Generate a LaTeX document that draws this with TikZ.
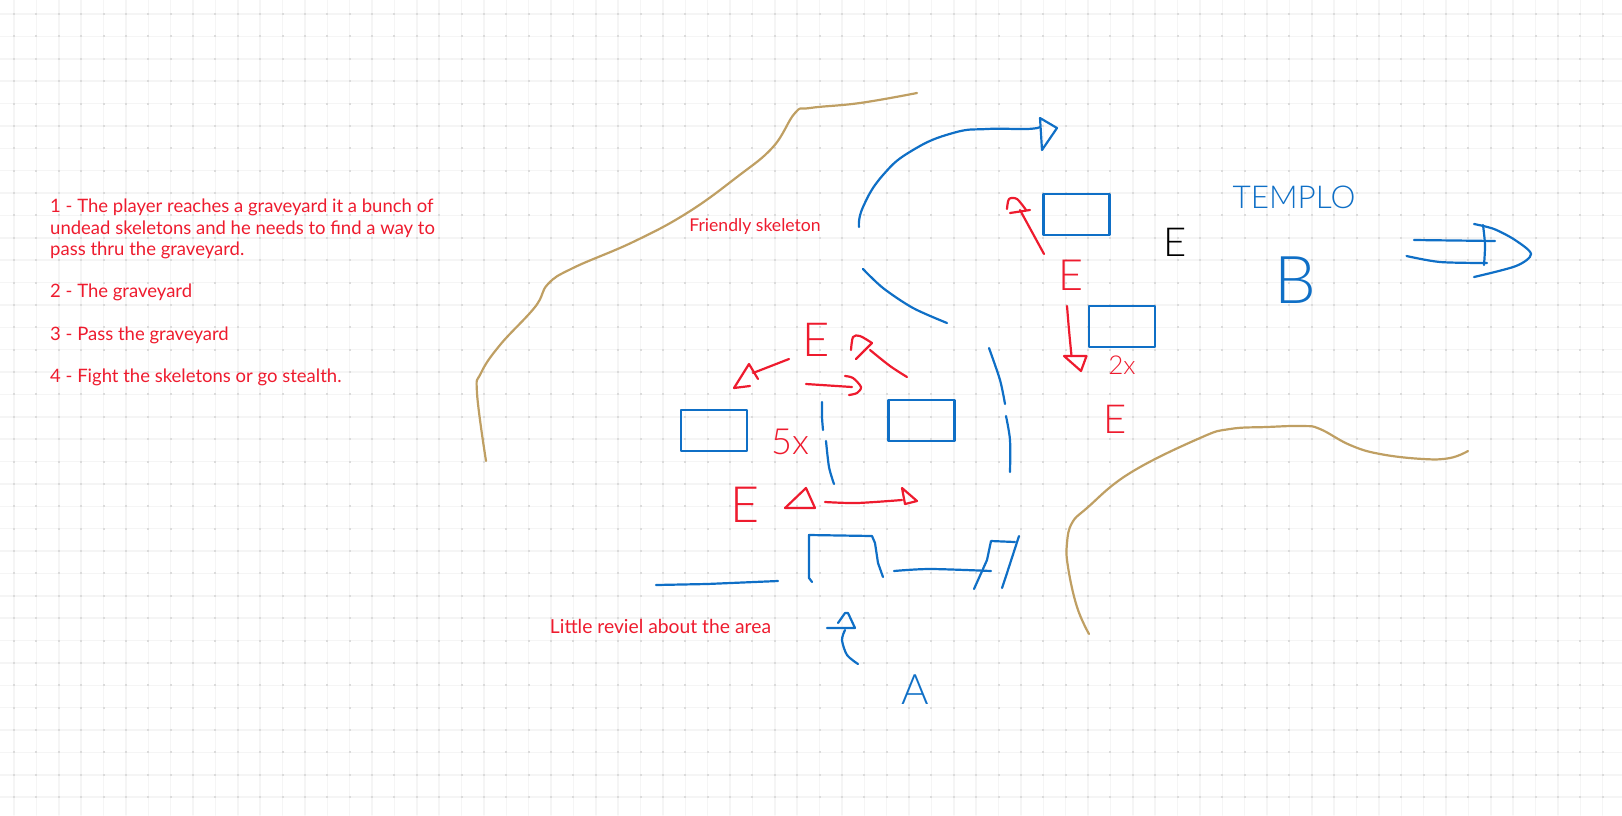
\documentclass[tikz,border=0pt]{standalone}
\usepackage{fontspec}
\setmainfont{Lato}
\newfontfamily\thinfont{Lato Light}
\newcommand{\fsize}[1]{\fontsize{#1}{#1}\selectfont}
\definecolor{inkred}{HTML}{EE1B2E}
\definecolor{inkblue}{HTML}{0F6FC6}
\definecolor{inktan}{HTML}{BF9F63}

\begin{document}
\begin{tikzpicture}[x=1pt,y=-1pt,line cap=round,line join=round,node distance=40pt]
  \tikzstyle{gridline}=[draw=black!4,line width=1.5pt]
  \tikzstyle{griddot}=[fill=black!14]
  \tikzstyle{redink}=[draw=inkred,line width=2.2pt]
  \tikzstyle{blueink}=[draw=inkblue,line width=2.2pt]
  \tikzstyle{tanink}=[draw=inktan,line width=2.2pt]
  \tikzstyle{crate}=[rectangle,draw=inkblue,line width=2.6pt,inner sep=0pt,minimum width=66pt,minimum height=41pt]
  \tikzstyle{note}=[text=inkred,inner sep=0pt]
  \tikzstyle{letter}=[inner sep=0pt,text=inkred]

  \useasboundingbox (0,0) rectangle (1622,815);
  \foreach \i in {0,...,71} \draw[gridline] ({14+22.375*\i},0) -- ({14+22.375*\i},815);
  \foreach \j in {0,...,35} \draw[gridline] (0,{14+22.375*\j}) -- (1622,{14+22.375*\j});
  \foreach \i in {0,...,71}
    \foreach \j in {0,...,35}
      \fill[griddot] ({13+22.375*\i},{13+22.375*\j}) rectangle +(2,2);

  \node[note]          (story) [anchor=north west,align=left,font=\fontsize{18.5}{21.25}\selectfont] at (50,199)
    {1 - The player reaches a graveyard it a bunch of\\
     undead skeletons and he needs to find a way to\\
     pass thru the graveyard.\\[21.25pt]
     2 - The graveyard\\[21.25pt]
     3 - Pass the graveyard\\[21.25pt]
     4 - Fight the skeletons or go stealth.};
  \node[note]          (friendly) at (755,227) [font=\fsize{17.6}] {Friendly skeleton};
  \node[note]          (reveal) at (660.5,626) [font=\fsize{19.3}] {Little reviel about the area};

  \node[crate]         (crateL) at (714,430.5) {};
  \node[crate]         (crateR) at (921.5,420.5) {};
  \node[crate]         (crateT) at (1076.5,214.5) {};
  \node[crate]         (crateB) at (1122,326.5) {};

  \node[letter]        (foeA) at (816,340) [font=\thinfont\fsize{47}] {E};
  \node[letter]        (foeB) at (745,505) [font=\thinfont\fsize{50}] {E};
  \node[letter]        (foeC) at (1071,275) [font=\thinfont\fsize{43}] {E};
  \node[letter]        (foeD) at (1115,419) [font=\thinfont\fsize{40}] {E};
  \node[letter]        (foeK) [right of=crateT, xshift=59pt, yshift=-27.5pt, text=black, font=\thinfont\fsize{40}] {E};
  \node[letter]        (countL) [right of=crateL, xshift=36pt, yshift=-11.5pt, font=\thinfont\fsize{36}] {5x};
  \node[letter]        (countB) at (1122,365) [font=\thinfont\fsize{26}] {2x};
  \node[letter]        (temple) at (1294,197) [text=inkblue, font=\thinfont\fsize{31.5}] {TEMPLO};
  \node[letter]        (exitB) at (1295,280) [text=inkblue, font=\thinfont\fsize{66}] {B};
  \node[letter]        (startA) at (915,690) [text=inkblue, font=\thinfont\fsize{42}] {A};

  \draw[tanink] plot[smooth,tension=0.7] coordinates {(486,461) (477,393) (481,373) (500,345) (535,307) (548,284) (573,268) (633,242) (687,213) (737,177) (773,147) (795,113) (810,108) (860,103) (917,93)};
  \draw[tanink] plot[smooth,tension=0.7] coordinates {(1089,634) (1077,607) (1068,567) (1067,543) (1072,523) (1087,508) (1130,473) (1200,438) (1230,429) (1267,427) (1303,426) (1320,429) (1350,445) (1380,454) (1423,459) (1450,458) (1468,451)};

  \draw[blueink] plot[smooth,tension=0.8] coordinates {(859,227) (863,207) (883,175) (913,150) (953,133) (987,129) (1027,129) (1040,127)};
  \draw[blueink] (1040,118) -- (1057,128) -- (1042,150) -- cycle;
  \draw[blueink] plot[smooth] coordinates {(863,269) (883,288) (913,308) (947,323)};
  \draw[blueink] plot[smooth] coordinates {(989,348) (1000,380) (1005,404)};
  \draw[blueink] plot[smooth] coordinates {(1006,416) (1010,440) (1010,472)};
  \draw[blueink] plot[smooth] coordinates {(822,402) (822,417) (823,430)};
  \draw[blueink] plot[smooth] coordinates {(826,441) (829,467) (834,484)};
  \draw[blueink] (656,585) -- (707,584) -- (778,581);
  \draw[blueink] (812,582) -- (809,578) -- (809,535) -- (872,536) -- (875,543) -- (878,563) -- (883,577);
  \draw[blueink] plot[smooth] coordinates {(894,571) (930,569) (991,571)};
  \draw[blueink] (974,589) -- (987,560) -- (991,541) -- (1015,542);
  \draw[blueink] (1019,536) -- (1007,573) -- (1002,588);
  \draw[blueink] (827,628) -- (855,628) -- (848,613) -- (845,613) -- (838,623);
  \draw[blueink] plot[smooth] coordinates {(845,630) (842,640) (847,655) (858,664)};
  \draw[blueink] (1414,240) -- (1495,241);
  \draw[blueink] plot[smooth] coordinates {(1406.5,256) (1440,262) (1487,263)};
  \draw[blueink] plot[smooth] coordinates {(1474,224) (1494,229) (1515,240) (1531,254) (1516,266) (1474,277)};
  \draw[blueink] plot[smooth] coordinates {(1483,225) (1485,245) (1484,265)};

  \draw[redink] (1044,254) -- (1020,210);
  \draw[redink] (1010,213) -- (1030,210);
  \draw[redink] plot[smooth] coordinates {(1007,209) (1009,199) (1017,199) (1026,210)};
  \draw[redink] plot[smooth] coordinates {(1067,306) (1069,330) (1071.5,356)};
  \draw[redink] (1064,356) -- (1086.5,356) -- (1081,371) -- cycle;
  \draw[redink] (789,359) -- (753,373);
  \draw[redink] (758,379) -- (749,364) -- (734,388) -- (750,386);
  \draw[redink] (806,384) -- (852,387);
  \draw[redink] plot[smooth] coordinates {(845,376) (853,378) (861,387) (857,393) (849,395)};
  \draw[redink] plot[smooth] coordinates {(907,377) (890,366) (870,350)};
  \draw[redink] (856,359) -- (872,343);
  \draw[redink] plot[smooth] coordinates {(872,343) (860,336) (853,337) (851,350)};
  \draw[redink] (806,488) -- (815,508) -- (785,508) -- cycle;
  \draw[redink] plot[smooth] coordinates {(825,502) (857,503) (902,500)};
  \draw[redink] (902,488) -- (917,501) -- (905,504) -- cycle;
\end{tikzpicture}
\end{document}
